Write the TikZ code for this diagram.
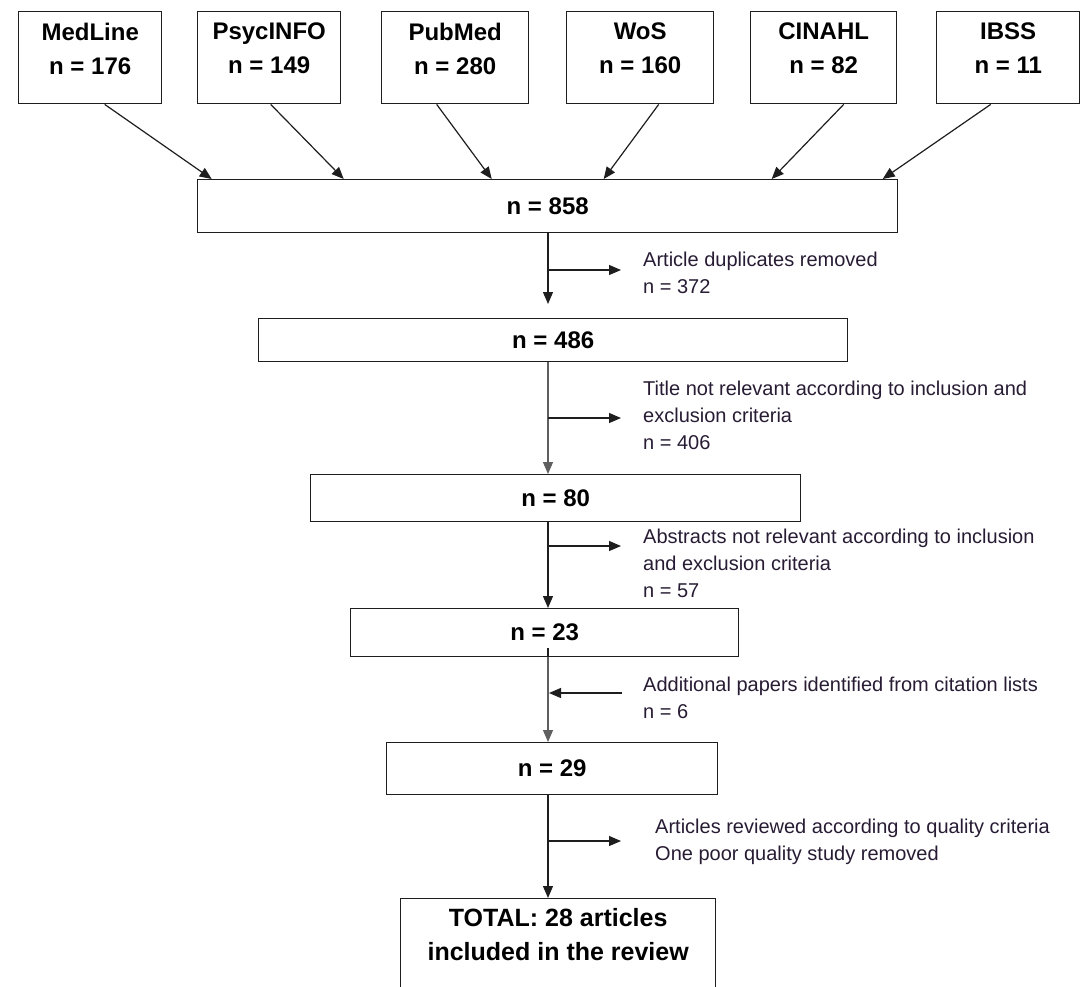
\documentclass[tikz,border=0pt]{standalone}
\usepackage{fontspec}
\setmainfont{Liberation Sans}
\usetikzlibrary{arrows.meta}
\definecolor{ln}{RGB}{30,30,30}
\definecolor{lngray}{RGB}{95,95,95}
\definecolor{sidetxt}{RGB}{40,28,52}
\begin{document}
\begin{tikzpicture}[x=1pt,y=-1pt,
  box/.style={draw=ln,line width=1.4pt,fill=white,inner sep=0,anchor=north west,
              font=\fontsize{24}{34}\selectfont\bfseries,align=center},
  btxt/.style={font=\fontsize{24}{34}\selectfont\bfseries,align=center,inner sep=0,anchor=north,text=black},
  stxt/.style={font=\fontsize{20}{27}\selectfont,align=left,inner sep=0,anchor=north west,text=sidetxt},
  arr/.style={draw=ln,line width=1.2pt,-{Triangle[length=12pt,width=10pt]}},
]
\useasboundingbox (0,0) rectangle (1082,986);
\fill[white] (0,0) rectangle (1082,986);

% source boxes
\node[box,minimum width=143,minimum height=92] (med) at (18,11) {};
\node[box,minimum width=143,minimum height=92] (psy) at (197,11) {};
\node[box,minimum width=147,minimum height=92] (pub) at (381,11) {};
\node[box,minimum width=147,minimum height=92] (wos) at (566,11) {};
\node[box,minimum width=146,minimum height=92] (cin) at (750,11) {};
\node[box,minimum width=143,minimum height=92] (ibs) at (936,11) {};
\node[btxt] (medT) at (med.north |- 0,23) {MedLine\\n = 176};
\node[btxt] (psyT) at (psy.north |- 0,23) {PsycINFO\\n = 149};
\node[btxt] (pubT) at (pub.north |- 0,23) {PubMed\\n = 280};
\node[btxt] (wosT) at (wos.north |- 0,23) {WoS\\n = 160};
\node[btxt] (cinT) at (cin.north |- 0,23) {CINAHL\\n = 82};
\node[btxt] (ibsT) at (ibs.north |- 0,23) {IBSS\\n = 11};

% flow boxes
\node[box,minimum width=700,minimum height=53] (n858) at (197,179) {n = 858};
\node[box,minimum width=589,minimum height=43] (n486) at (258,318) {n = 486};
\node[box,minimum width=490,minimum height=47] (n80) at (310,474) {n = 80};
\node[box,minimum width=388,minimum height=48] (n23) at (350,608) {n = 23};
\node[box,minimum width=331,minimum height=52] (n29) at (386,742) {n = 29};
\node[box,minimum width=315,minimum height=120] (tot) at (400,898) {};
\node[btxt,font=\fontsize{25}{34}\selectfont\bfseries] (totT) at (tot.north |- 0,908) {TOTAL: 28 articles\\included in the review};

% side texts
\node[stxt] (dup) at (643,252) {Article duplicates removed\\n = 372};
\node[stxt] (tit) at (643,381) {Title not relevant according to inclusion and\\exclusion criteria\\n = 406};
\node[stxt] (abs) at (643,529) {Abstracts not relevant according to inclusion\\and exclusion criteria\\n = 57};
\node[stxt] (add) at (643,677) {Additional papers identified from citation lists\\n = 6};
\node[stxt] (qua) at (655,819) {Articles reviewed according to quality criteria\\One poor quality study removed};

% source arrows
\draw[arr] ([xshift=14.5]med.south) -- ([xshift=-336]n858.north);
\draw[arr] ([xshift=1.5]psy.south) -- ([xshift=-204]n858.north);
\draw[arr] ([xshift=-18.5]pub.south) -- ([xshift=-56]n858.north);
\draw[arr] ([xshift=18.5]wos.south) -- ([xshift=56]n858.north);
\draw[arr] ([xshift=20]cin.south) -- ([xshift=224]n858.north);
\draw[arr] ([xshift=-17.5]ibs.south) -- ([xshift=335]n858.north);

% spine
\coordinate (spine) at (548,0);
\draw[arr] (n858.south -| spine) -- ([yshift=14]n486.north -| spine);
\draw[arr,draw=lngray] (n486.south -| spine) -- (n80.north -| spine);
\draw[arr] (n80.south -| spine) -- (n23.north -| spine);
\draw[arr,draw=lngray] (n23.south -| spine) -- (n29.north -| spine);
\draw[draw=ln,line width=1.6pt] ([yshift=9]n23.south -| spine) -- (n23.south -| spine);
\draw[arr] (n29.south -| spine) -- (tot.north -| spine);

% branches
\coordinate (b1) at (548,270); \coordinate (b1e) at (621,270);
\coordinate (b2) at (548,418); \coordinate (b2e) at (621,418);
\coordinate (b3) at (548,546); \coordinate (b3e) at (621,546);
\coordinate (b4) at (622,693); \coordinate (b4e) at (549,693);
\coordinate (b5) at (548,841); \coordinate (b5e) at (621,841);
\draw[arr] (b1) -- (b1e);
\draw[arr] (b2) -- (b2e);
\draw[arr] (b3) -- (b3e);
\draw[arr] (b4) -- (b4e);
\draw[arr] (b5) -- (b5e);
\end{tikzpicture}
\end{document}
